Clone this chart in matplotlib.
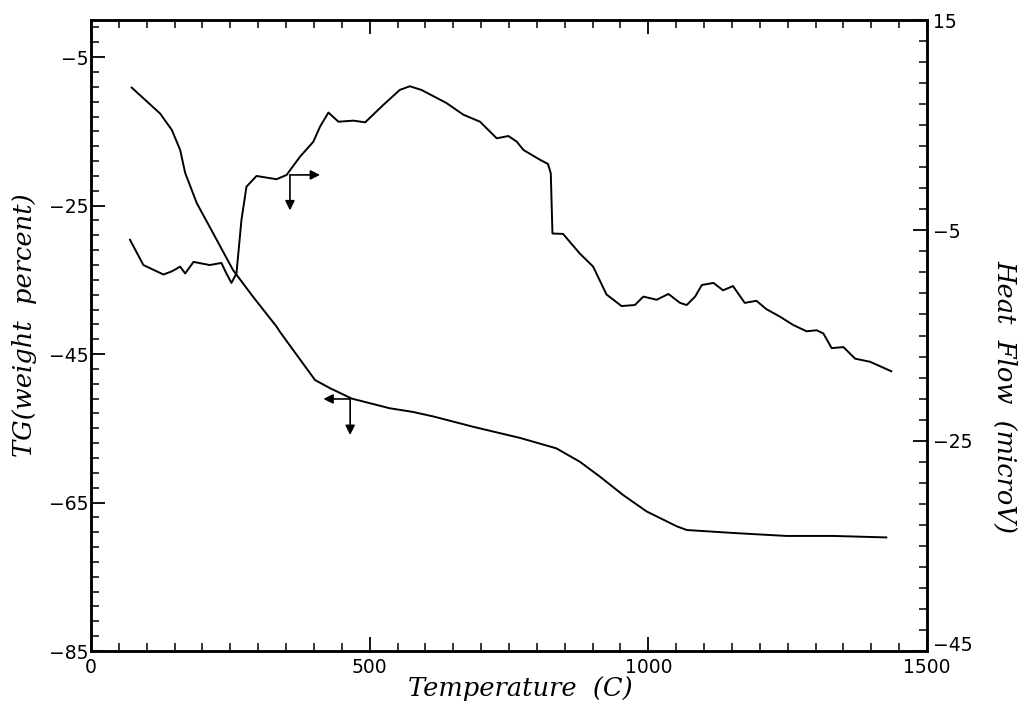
import numpy as np
import matplotlib
matplotlib.use('Agg')
import matplotlib.pyplot as plt
from matplotlib.ticker import FixedLocator

plt.rcParams['font.family'] = ['DejaVu Sans']

# TG curve (left axis)
tg_temp = [73, 124, 145, 160, 169, 190, 219, 255, 291, 333, 339, 402, 429, 468, 536,
           578, 614, 686, 770, 835, 877, 913, 955, 997, 1051, 1069, 1152, 1248, 1332, 1427]
tg_weight = [-9.1, -12.6, -14.8, -17.5, -20.6, -24.7, -28.7, -33.7, -37.3, -41.3, -42.0,
             -48.5, -49.6, -51.0, -52.3, -52.8, -53.4, -54.8, -56.3, -57.7, -59.5, -61.5,
             -64.0, -66.2, -68.2, -68.7, -69.1, -69.5, -69.5, -69.7]

# Heat flow curve (right axis)
hf_temp = [70, 94, 130, 145, 160, 169, 184, 213, 234, 243, 252, 261, 270, 279, 297, 333,
           351, 375, 399, 411, 426, 444, 471, 492, 524, 554, 572, 593, 638, 668, 698, 728,
           749, 764, 776, 806, 820, 825, 828, 847, 877, 901, 925, 952, 976, 991, 1015, 1036,
           1057, 1069, 1084, 1096, 1117, 1134, 1152, 1173, 1194, 1212, 1236, 1260, 1284,
           1302, 1314, 1329, 1350, 1371, 1398, 1436]
hf_value = [-5.9, -8.3, -9.2, -8.9, -8.45, -9.1, -8.0, -8.3, -8.1, -9.1, -10.0, -9.1, -4.0,
            -0.85, 0.17, -0.14, 0.27, 2.0, 3.43, 4.86, 6.2, 5.33, 5.43, 5.27, 6.9, 8.35, 8.7,
            8.35, 7.1, 6.0, 5.33, 3.75, 3.97, 3.43, 2.64, 1.7, 1.31, 0.43, -5.3, -5.34, -7.2,
            -8.45, -11.1, -12.2, -12.1, -11.3, -11.6, -11.05, -11.9, -12.1, -11.3, -10.2,
            -10.0, -10.7, -10.3, -11.9, -11.7, -12.5, -13.2, -14.0, -14.6, -14.5, -14.8,
            -16.2, -16.1, -17.2, -17.5, -18.4]

# arrow markers: corner x, corner y, horizontal end x, vertical end y
hf_arrow = (357, 0.27, 411, -3.1)
tg_arrow = (465, -51.05, 417, -55.9)

fig = plt.figure(figsize=(10.2, 7.07), dpi=100)
ax = fig.add_axes([0.0892, 0.0792, 0.8196, 0.8925])
ax2 = ax.twinx()

ax.plot(tg_temp, tg_weight, color='black', lw=1.4)
ax2.plot(hf_temp, hf_value, color='black', lw=1.4)

ap = dict(arrowstyle='-|>', color='black', lw=1.2, mutation_scale=14, shrinkA=0, shrinkB=0)
cx, cy, hx, vy = hf_arrow
ax2.annotate('', xy=(hx, cy), xytext=(cx, cy), arrowprops=ap)
ax2.annotate('', xy=(cx, vy), xytext=(cx, cy), arrowprops=ap)
cx, cy, hx, vy = tg_arrow
ax.annotate('', xy=(hx, cy), xytext=(cx, cy), arrowprops=ap)
ax.annotate('', xy=(cx, vy), xytext=(cx, cy), arrowprops=ap)

ax.set_xlim(0, 1500)
ax.set_ylim(-85, 0)
ax2.set_ylim(-45, 15)

ax.set_xticks([0, 500, 1000, 1500])
ax.xaxis.set_minor_locator(FixedLocator(np.arange(0, 1501, 50)))
ax.set_yticks([-85, -65, -45, -25, -5])
ax.yaxis.set_minor_locator(FixedLocator(np.arange(-85, 0, 2)))
ax2.set_yticks([-45, -25, -5, 15])
ax2.yaxis.set_minor_locator(FixedLocator(np.arange(-45, 16, 2)))

ax.tick_params(axis='x', which='both', direction='in', top=True, labelsize=13.5, pad=5)
ax.tick_params(axis='y', which='both', direction='in', right=False, labelsize=13.5, pad=2)
ax.tick_params(which='major', length=10, width=1.3)
ax.tick_params(which='minor', length=5.5, width=1.1)
ax2.tick_params(which='both', direction='in', labelsize=13.5, pad=4)
ax2.tick_params(which='major', length=10, width=1.3)
ax2.tick_params(which='minor', length=5.5, width=1.1)

# nudge the bottom right label up so it clears "1500"
ax2.get_yticklabels()[0].set_va('baseline')

for a in (ax, ax2):
    for s in a.spines.values():
        s.set_linewidth(1.8)

lab = dict(family='DejaVu Serif', style='italic', fontsize=18.5)
ax.set_xlabel('Temperature  (C)', **lab)
ax.xaxis.set_label_coords(0.514, -0.04)
ax.set_ylabel('TG(weight  percent)', **lab)
ax.yaxis.set_label_coords(-0.08, 0.517)
ax.yaxis.label.set_va('center')
ax2.set_ylabel('Heat  Flow  (microV)', rotation=270, **lab)
ax2.yaxis.set_label_coords(1.093, 0.404)
ax2.yaxis.label.set_va('center')

fig.savefig('out.png', dpi=100)
